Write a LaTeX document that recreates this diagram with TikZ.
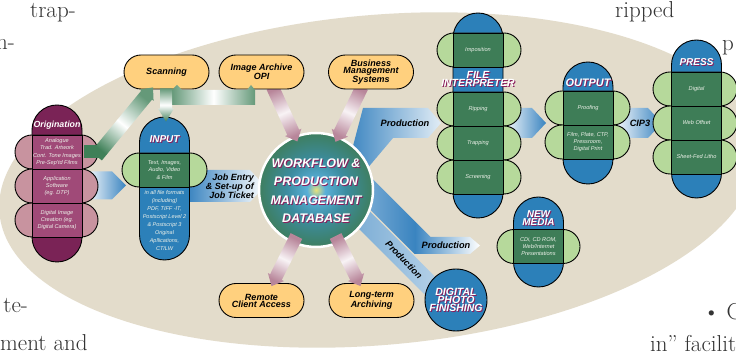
\documentclass[tikz,border=0pt]{standalone}
\usepackage{fontspec}
\newfontfamily\hvfont{Liberation Sans}
\usetikzlibrary{positioning,calc}

\definecolor{bgbeige}{HTML}{E3DCCB}
\definecolor{pillorange}{HTML}{FFD07E}
\definecolor{capblue}{HTML}{2C80B9}
\definecolor{celldgreen}{HTML}{3E7D57}
\definecolor{pillgreen}{HTML}{B6D99B}
\definecolor{origdark}{HTML}{7A2356}
\definecolor{origmid}{HTML}{A04A78}
\definecolor{origlight}{HTML}{C8939F}
\definecolor{shadowmag}{HTML}{8A1F5C}
\definecolor{bandblue}{HTML}{3A84C0}
\definecolor{pinkbar}{HTML}{B8869A}
\definecolor{greenbar}{HTML}{3F8058}
\definecolor{dbgreen}{HTML}{3E7D5A}
\definecolor{glowyellow}{HTML}{E8E27A}
\definecolor{glowcyan}{HTML}{5AB0D8}
\definecolor{glowblue}{HTML}{3C8CA0}
\definecolor{rowwhite}{HTML}{EEF2EA}
\definecolor{pagegray}{HTML}{333333}

\pgfdeclareradialshading{dbglow}{\pgfpoint{0bp}{0bp}}{%
  color(0bp)=(glowyellow);
  color(4bp)=(glowcyan);
  color(13bp)=(glowblue);
  color(26bp)=(dbgreen);
  color(50bp)=(dbgreen)}

\newcommand{\taskfont}{\hvfont\bfseries\itshape\fontsize{9}{7}\selectfont}
\newcommand{\rowfont}{\hvfont\itshape\fontsize{5.6}{7.3}\selectfont}
\newcommand{\bandfont}{\hvfont\bfseries\itshape\fontsize{9.2}{9}\selectfont}
\newcommand{\ttlfont}[2]{\hvfont\bfseries\itshape\fontsize{#1}{#2}\selectfont}

% fat shaded arrow: #1 shading, #2 from, #3 to, #4 half width, #5 head half width, #6 head length
\newcommand{\fatarrow}[6]{%
  \coordinate (fa-s) at (#2);
  \coordinate (fa-e) at (#3);
  \coordinate (fa-h) at ($(fa-e)!#6!(fa-s)$);
  \shade[#1] ($(fa-s)!#4!90:(fa-e)$) -- ($(fa-h)!#4!-90:(fa-s)$) -- ($(fa-h)!#5!-90:(fa-s)$)
    -- (fa-e) -- ($(fa-h)!#5!90:(fa-s)$) -- ($(fa-h)!#4!90:(fa-s)$) -- ($(fa-s)!#4!-90:(fa-e)$) -- cycle;
}

% white title with magenta shadow: #1 font, #2 name, #3 position, #4 text
\newcommand{\shadowtitle}[4]{%
  \node[title, font={#1}, text=shadowmag] (#2-shadow) at ($(#3)+(1,-1)$) {#4};
  \node[title, font={#1}] (#2) at (#3) {#4};
}

\begin{document}
\begin{tikzpicture}[
    x=1pt, y=1pt,
    capsule/.style={draw, line width=0.9pt, fill=capblue, minimum width=50pt, rounded corners=25pt, inner sep=0pt},
    pill/.style={draw, line width=0.9pt, fill=pillgreen, minimum width=84pt, minimum height=34pt, rounded corners=17pt, inner sep=0pt},
    cell/.style={draw, line width=0.9pt, fill=celldgreen, minimum width=50pt, minimum height=34pt, inner sep=0pt, align=center, font=\rowfont, text=rowwhite},
    task/.style={draw, line width=0.9pt, fill=pillorange, minimum width=85pt, minimum height=34pt, rounded corners=17pt, inner sep=0pt, align=center, font=\taskfont},
    bandlabel/.style={font=\bandfont, inner sep=0pt},
    title/.style={text=white, align=center, inner sep=0pt},
    pagetext/.style={font=\fontsize{23}{28}\selectfont, text=pagegray, inner sep=0pt}
]

% Page and background
\fill[white] (0,0) rectangle (736,358);
\useasboundingbox (0,0) rectangle (736,358);
\clip (0,0) rectangle (736,358);
\fill[bgbeige, rotate around={5:(378,178)}] (378,178) ellipse [x radius=380, y radius=165];

% Running text of the page
\node[pagetext, anchor=base west] (txt-trap) at (30,340) {trap-};
\node[pagetext, anchor=base east] (txt-n) at (15,308) {n-};
\node[pagetext, anchor=base east] (txt-te) at (28,45) {te-};
\node[pagetext, anchor=base west] (txt-ment) at (0,7) {ment and};
\node[pagetext, anchor=base west] (txt-ripped) at (615,340) {ripped};
\node[pagetext, anchor=base west] (txt-p) at (722,307) {p};
\node[pagetext, anchor=base west] (txt-bullet) at (703,38) {\textbullet\ C};
\node[pagetext, anchor=base west] (txt-in) at (650,6) {in” facilit};

% Production bands
\shade[left color=white, right color=bandblue] (85,186.5) -- (112,186.5) -- (126,172.5) -- (112,158.5) -- (85,158.5) -- cycle;
\shade[left color=bandblue, right color=white] (188,188) -- (250,188) -- (265,172) -- (250,156) -- (188,156) -- cycle;
\shade[left color=bandblue, right color=bandblue!15!white] (348,193) -- (363,250) -- (428,250) -- (441,235) -- (428,220) -- (393,220) -- (366,188) -- cycle;
\shade[left color=white, right color=bandblue] (503,250) -- (532,250) -- (546,235) -- (532,220) -- (503,220) -- cycle;
\shade[left color=white, right color=bandblue] (613,250) -- (648,250) -- (662,235) -- (648,220) -- (613,220) -- cycle;
\shade[left color=bandblue!60!white, right color=white, middle color=bandblue] (365,186.7) -- (430.7,121) -- (470,121) -- (480,112.5) -- (470,104) -- (414.5,104) -- (350,168.5) -- cycle;
\shade[left color=bandblue!75!white, right color=bandblue!35!white] (340,176.4) -- (445,71.4) -- (432,56) -- (330,158) -- cycle;

% Database
\node[circle, shade, shading=dbglow, draw=white, line width=2.5pt, minimum size=114pt, inner sep=0pt] (db) at (316,168) {};

% Links to the database
\fatarrow{top color=pinkbar, bottom color=pinkbar, middle color=white!90!pinkbar, shading angle=23.5}{$(0,0)+(272.5,271)$}{$(db.center)+(111:52)$}{6.5pt}{9pt}{10pt}
\fatarrow{top color=pinkbar, bottom color=pinkbar, middle color=white!90!pinkbar, shading angle=-25.7}{$(0,0)+(362,271)$}{$(db.center)+(68:52)$}{6.5pt}{9pt}{10pt}

% Services
\node[task] (scan) at (166.5,286) {Scanning};
\node[task] (archive) at (261.5,286) {Image Archive\\OPI};
\node[task] (business) at (371,286) {Business\\Management\\Systems};
\node[task] (remote) at (261.5,57.5) {Remote\\Client Access};
\node[task] (archiving) at (371.5,57.5) {Long-term\\Archiving};

\fatarrow{top color=pinkbar, bottom color=pinkbar, middle color=white!90!pinkbar, shading angle=-26.3}{$(db.center)+(-113:50)$}{$(remote.north)+(10,-3)$}{6.5pt}{9pt}{10pt}
\fatarrow{top color=pinkbar, bottom color=pinkbar, middle color=white!90!pinkbar, shading angle=26.3}{$(db.center)+(-67:50)$}{$(archiving.north)+(-11,-3)$}{6.5pt}{9pt}{10pt}

% Origination
\node[capsule, fill=origdark, minimum height=157pt] (orig) at (57,174.5) {};
\node[pill, fill=origlight, minimum width=83pt] (orig-p1) at (56.5,206) {};
\node[pill, fill=origlight, minimum width=83pt] (orig-p2) at (56.5,172) {};
\node[pill, fill=origlight, minimum width=83pt] (orig-p3) at (56.5,138) {};
\node[cell, fill=origmid] (orig-c1) at (57,206) {Analogue\\Trad. Artwork\\Cont. Tone Images\\Pre-Sep'td Films};
\node[cell, fill=origmid] (orig-c2) at (57,172) {Application\\Software\\(eg. DTP)};
\node[cell, fill=origmid] (orig-c3) at (57,138) {Digital Image\\Creation (eg.\\Digital Camera)};
\node[title, font=\ttlfont{8.8}{9}] (orig-title) at (57,233) {Origination};

% Input
\node[capsule, minimum height=143pt] (input) at (164.5,169.5) {};
\node[pill, minimum width=85pt] (input-p1) at (164.5,188) {};
\node[cell] (input-c1) at (164.5,188) {Text, Images,\\Audio, Video\\\& Film};
\node[title, text=rowwhite, font=\hvfont\itshape\fontsize{5.5}{7.9}\selectfont] (input-formats) at (164.5,137.5)
  {in all file formats\\(including)\\PDF, TIFF -IT,\\Postscript Level 2\\\& Postscript 3\\Original\\Apllications,\\CT/LW};
\shadowtitle{\ttlfont{10}{10}}{input-title}{164.5,219}{INPUT}

% Scanning and archive feeds
\fill[greenbar] ($(orig-p1.east)+(-14,-6)$) rectangle ($(orig-p1.east)+(6,7)$);
\fatarrow{left color=greenbar, right color=greenbar!80, middle color=white, shading angle=140.7}{$(orig-p1.east)+(-2,-4)$}{$(scan.south)+(-13.5,2)$}{7pt}{9pt}{10pt}
\shade[left color=greenbar!80, right color=greenbar!80, middle color=white] (172,253) -- (172,268) -- (177,273) -- (182,268) -- (247,268) -- (251,273) -- (255,268) -- (255,253) -- cycle;
\fatarrow{top color=greenbar!80, bottom color=greenbar, middle color=white}{$(scan.south)+(-0.5,1)$}{$(input.north)+(1.5,-5)$}{6pt}{8pt}{13pt}

% File interpreter
\node[capsule, minimum height=205pt] (fi) at (478,242.5) {};
\node[pill] (fi-p1) at (479,308) {};
\node[pill] (fi-p2) at (479,249) {};
\node[pill] (fi-p3) at (479,215) {};
\node[pill] (fi-p4) at (479,181) {};
\node[cell] (fi-c1) at (478,308) {Imposition};
\node[cell] (fi-c2) at (478,249) {Ripping};
\node[cell] (fi-c3) at (478,215) {Trapping};
\node[cell] (fi-c4) at (478,181) {Screening};
\shadowtitle{\ttlfont{10.4}{8}}{fi-title}{478,279}{FILE\\INTERPRETER}

% Output
\node[capsule, minimum height=122pt] (output) at (588,235) {};
\node[pill, minimum width=85pt] (output-p1) at (587.5,250) {};
\node[pill, minimum width=85pt] (output-p2) at (587.5,216) {};
\node[cell] (output-c1) at (588,250) {Proofing};
\node[cell] (output-c2) at (588,216) {Film, Plate, CTP,\\Pressroom,\\Digital Print};
\shadowtitle{\ttlfont{10.9}{10}}{output-title}{588,275}{OUTPUT}

% Press
\node[capsule, minimum height=158pt] (press) at (696.5,239) {};
\node[pill] (press-p1) at (695,269) {};
\node[pill] (press-p2) at (695,235) {};
\node[pill] (press-p3) at (695,201) {};
\node[cell] (press-c1) at (696.5,269) {Digital};
\node[cell] (press-c2) at (696.5,235) {Web Offset};
\node[cell] (press-c3) at (696.5,201) {Sheet-Fed Litho};
\shadowtitle{\ttlfont{10}{10}}{press-title}{696.5,296}{PRESS}

% New media
\node[capsule, minimum height=90pt] (media) at (538.5,116) {};
\node[pill, minimum width=83pt] (media-p1) at (538.5,111.5) {};
\node[cell] (media-c1) at (538.5,111.5) {CDi, CD ROM,\\Web/Internet\\Presentations};
\shadowtitle{\ttlfont{10}{8}}{media-title}{538.5,140}{NEW\\MEDIA}

% Digital photo finishing
\node[circle, draw, line width=0.9pt, fill=capblue, minimum size=62pt, inner sep=0pt] (photo) at (456,58) {};
\shadowtitle{\ttlfont{10.5}{8}}{photo-title}{456,58.5}{DIGITAL\\PHOTO\\FINISHING}

% Database title
\shadowtitle{\ttlfont{12.5}{18.5}}{db-title}{316,167.5}{WORKFLOW \&\\PRODUCTION\\MANAGEMENT\\DATABASE}

% Band labels
\node[bandlabel, align=right, anchor=east, font=\ttlfont{9}{9}] (jobentry) at (254,172) {Job Entry\\\& Set-up of\\Job Ticket};
\node[bandlabel] (prod-fi) at (405,235) {Production};
\node[bandlabel] (prod-media) at (446,113) {Production};
\node[bandlabel, rotate=-46] (prod-photo) at (404,98) {Production};
\node[bandlabel] (cip3) at (640,235) {CIP3};

\end{tikzpicture}
\end{document}
